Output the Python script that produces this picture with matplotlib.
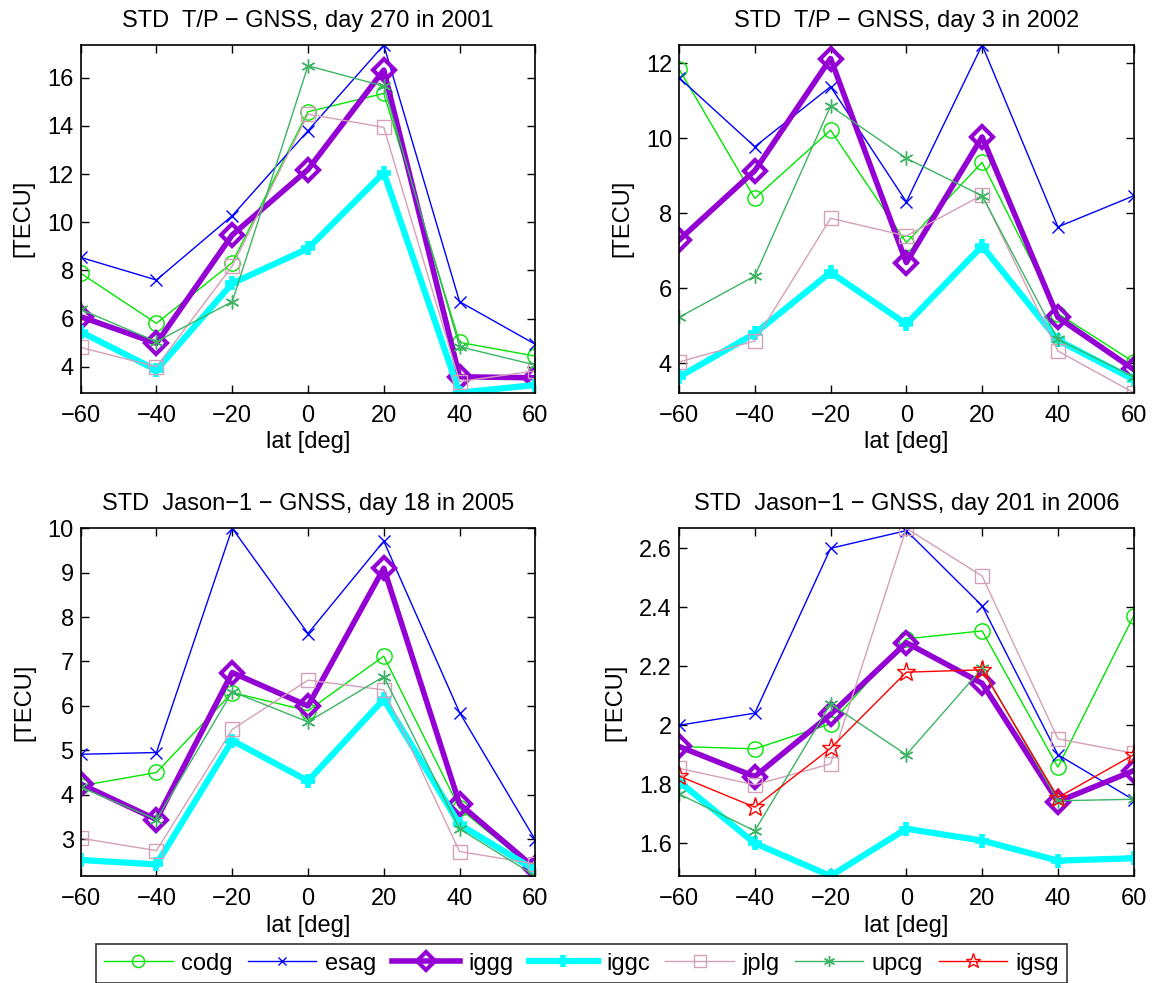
import matplotlib
matplotlib.use("Agg")
import matplotlib.pyplot as plt
from matplotlib.ticker import FuncFormatter

plt.rcParams['font.family'] = ['Liberation Sans', 'DejaVu Sans']
plt.rcParams['font.size'] = 17

lat = [-60, -40, -20, 0, 20, 40, 60]

titles = ["STD  T/P \u2212 GNSS, day 270 in 2001",
          "STD  T/P \u2212 GNSS, day 3 in 2002",
          "STD  Jason\u22121 \u2212 GNSS, day 18 in 2005",
          "STD  Jason\u22121 \u2212 GNSS, day 201 in 2006"]

# panel 1
codg1 = [7.88, 5.80, 8.32, 14.59, 15.35, 5.01, 4.44]
esag1 = [8.54, 7.60, 10.27, 13.80, 17.36, 6.70, 4.93]
iggg1 = [6.08, 4.97, 9.47, 12.19, 16.32, 3.58, 3.54]
iggc1 = [5.45, 3.86, 7.46, 8.91, 12.06, 2.92, 3.24]
jplg1 = [4.80, 4.00, 8.18, 14.49, 13.94, 3.38, 3.83]
upcg1 = [6.38, 5.04, 6.70, 16.50, 15.65, 4.83, 4.07]

# panel 2
codg2 = [11.85, 8.40, 10.22, 7.22, 9.36, 5.33, 4.04]
esag2 = [11.62, 9.78, 11.38, 8.31, 12.49, 7.64, 8.47]
iggg2 = [7.29, 9.14, 12.13, 6.69, 10.04, 5.23, 3.84]
iggc2 = [3.64, 4.80, 6.43, 5.05, 7.13, 4.62, 3.57]
jplg2 = [4.04, 4.60, 7.87, 7.40, 8.49, 4.33, 3.22]
upcg2 = [5.23, 6.33, 10.86, 9.47, 8.47, 4.64, 3.64]

# panel 3
codg3 = [4.20, 4.50, 6.30, 5.89, 7.12, 3.69, 2.30]
esag3 = [4.91, 4.95, 10.00, 7.63, 9.71, 5.85, 2.98]
iggg3 = [4.24, 3.44, 6.75, 6.00, 9.10, 3.79, 2.34]
iggc3 = [2.53, 2.43, 5.22, 4.31, 6.15, 3.33, 2.30]
jplg3 = [3.02, 2.74, 5.47, 6.58, 6.36, 2.72, 2.44]
upcg3 = [4.17, 3.44, 6.32, 5.64, 6.66, 3.23, 2.17]

# panel 4
codg4 = [1.928, 1.920, 2.005, 2.293, 2.320, 1.858, 2.371]
esag4 = [2.000, 2.041, 2.600, 2.660, 2.405, 1.900, 1.747]
iggg4 = [1.928, 1.826, 2.037, 2.280, 2.142, 1.741, 1.846]
iggc4 = [1.809, 1.600, 1.489, 1.649, 1.609, 1.541, 1.549]
jplg4 = [1.854, 1.798, 1.869, 2.668, 2.506, 1.954, 1.905]
upcg4 = [1.767, 1.642, 2.072, 1.900, 2.193, 1.744, 1.749]
igsg4 = [1.828, 1.722, 1.922, 2.180, 2.188, 1.755, 1.900]

panels = [
    {'codg': codg1, 'esag': esag1, 'iggg': iggg1, 'iggc': iggc1, 'jplg': jplg1, 'upcg': upcg1},
    {'codg': codg2, 'esag': esag2, 'iggg': iggg2, 'iggc': iggc2, 'jplg': jplg2, 'upcg': upcg2},
    {'codg': codg3, 'esag': esag3, 'iggg': iggg3, 'iggc': iggc3, 'jplg': jplg3, 'upcg': upcg3},
    {'codg': codg4, 'esag': esag4, 'iggg': iggg4, 'iggc': iggc4, 'jplg': jplg4, 'upcg': upcg4,
     'igsg': igsg4},
]

yticks = [range(4, 17, 2), range(4, 13, 2), range(3, 11), [1.6, 1.8, 2.0, 2.2, 2.4, 2.6]]

asterisk = (6, 2, 0)
styles = {
    'codg': dict(color='#00e600', lw=1, marker='o', ms=11, mfc='none'),
    'esag': dict(color='#0000ff', lw=1, marker='x', ms=8),
    'iggg': dict(color='#9400d3', lw=4, marker='D', ms=11, mfc='none', mew=3),
    'iggc': dict(color='#00ffff', lw=4.5, marker='+', ms=10, mew=4),
    'jplg': dict(color='#d4a0b8', lw=1, marker='s', ms=10, mfc='none'),
    'upcg': dict(color='#3cb464', lw=1, marker=asterisk, ms=10),
    'igsg': dict(color='#ff0000', lw=1, marker='*', ms=14, mfc='none', mew=1),
}
order = ['codg', 'esag', 'iggg', 'iggc', 'jplg', 'upcg', 'igsg']

fig = plt.figure(figsize=(11.54, 9.83), dpi=100)
pos = [[0.0699, 0.6005, 0.394, 0.3537],
       [0.5884, 0.6005, 0.394, 0.3537],
       [0.0699, 0.1089, 0.394, 0.3537],
       [0.5884, 0.1089, 0.394, 0.3537]]

handles = {}
for i, p in enumerate(panels):
    ax = fig.add_axes(pos[i])
    for name in order:
        if name in p:
            h, = ax.plot(lat, p[name], label=name, **styles[name])
            handles[name] = h
    allv = [v for vals in p.values() for v in vals]
    ax.set_ylim(min(allv), max(allv))
    ax.set_xlim(-60, 60)
    ax.set_xticks(lat)
    ax.set_yticks(list(yticks[i]))
    ax.yaxis.set_major_formatter(FuncFormatter(lambda v, _: '%g' % round(v, 2)))
    ax.xaxis.set_major_formatter(FuncFormatter(lambda v, _: ('%g' % v).replace('-', '\u2212')))
    ax.tick_params(direction='in', top=True, right=True, length=6, width=1, labelsize=17, pad=5)
    ax.tick_params(axis='x', pad=9)
    for s in ax.spines.values():
        s.set_linewidth(1.2)
    ax.set_title(titles[i], fontsize=17, pad=13)
    ax.set_xlabel('lat [deg]', fontsize=17, labelpad=3)
    ax.set_ylabel('[TECU]', fontsize=17, labelpad=9)

leg = fig.legend([handles[n] for n in order], order, ncol=7, loc='lower left',
                 bbox_to_anchor=(0.083, 0.0, 0.842, 0.044), mode='expand',
                 frameon=True, fancybox=False, edgecolor='black', fontsize=17,
                 handlelength=2.9, borderaxespad=0, borderpad=0.35,
                 columnspacing=0.6, handletextpad=0.35, markerscale=0.8)
leg.get_frame().set_linewidth(1.2)

fig.savefig('out.png', dpi=100)
